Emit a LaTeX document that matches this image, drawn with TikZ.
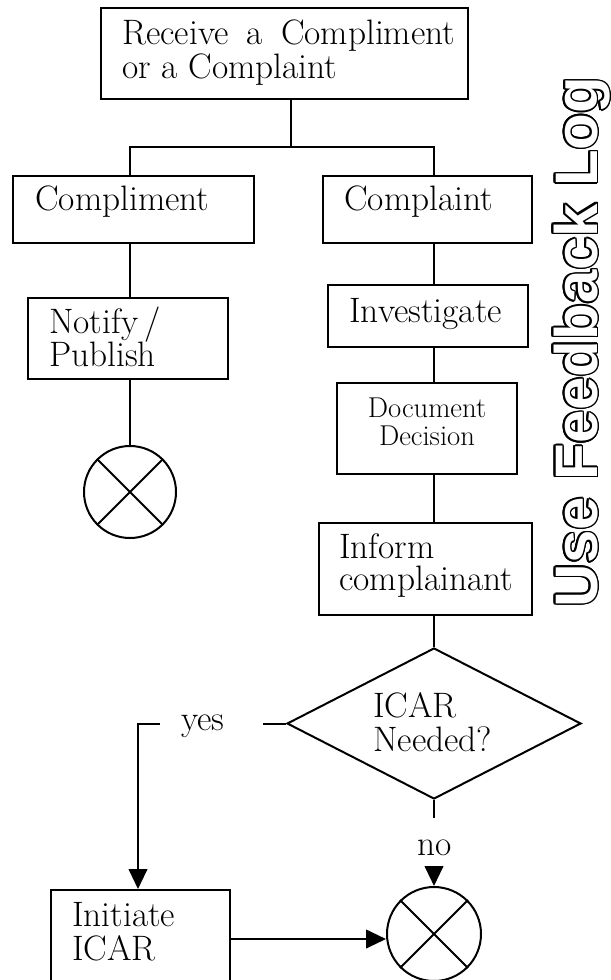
\documentclass[tikz,border=0pt]{standalone}
\usepackage{fontspec}
\newfontfamily\logofont{Liberation Sans}
\usepackage{contour}
\contourlength{1.1pt}
\usetikzlibrary{arrows.meta,shapes.geometric,fit}
\tikzset{
  box/.style={draw, line width=1.5pt, inner sep=0pt, rectangle},
  txt/.style={inner sep=0pt, font=\fontsize{26.5}{30}\selectfont, anchor=base west},
  smalltxt/.style={inner sep=0pt, font=\fontsize{21.5}{25}\selectfont, anchor=base},
  conn/.style={line width=1.5pt},
  arr/.style={conn, -{Triangle[length=15pt,width=14pt]}},
  endc/.style={circle, draw, line width=1.5pt, inner sep=0pt},
  dia/.style={diamond, draw, line width=1.5pt, inner sep=0pt, minimum width=220.5pt, minimum height=113.25pt}
}
\begin{document}
\begin{tikzpicture}[x=0.75pt,y=-0.75pt]
\useasboundingbox (0,0) rectangle (610,980);
\clip (0,0) rectangle (610,980);
% boxes
\node[box, fit={(101,8)(468,99)}] (top) {};
\node[box, fit={(13,176)(254,243)}] (cpl) {};
\node[box, fit={(323,176)(532,243)}] (cpt) {};
\node[box, fit={(28,298)(228,379)}] (notf) {};
\node[box, fit={(328,285)(528,347)}] (inv) {};
\node[box, fit={(337,383)(517,474)}] (doc) {};
\node[box, fit={(319,523)(532,615)}] (inf) {};
\node[box, fit={(51,890)(230,988)}] (ini) {};
\node[dia] (dec) at (434,723.5) {};
\node[endc, minimum size=69pt] (c1) at (130,492) {};
\node[endc, minimum size=70.5pt] (c2) at (434,934) {};
% texts
\node[txt] (topa) at (122,45) {\makebox[249.75pt][s]{Receive a Compliment}};
\node[txt] (topb) at (122,79) {or a Complaint};
\node[txt] (cplt) at (35,211) {Compliment};
\node[txt] (cptt) at (344,211) {Complaint};
\node[txt] (nota) at (49,333) {Notify\,/};
\node[txt] (notb) at (49,366) {Publish};
\node[txt] (invt) at (349,322) {Investigate};
\node[smalltxt] (doca) at (427,417) {Document};
\node[smalltxt] (docb) at (427,445) {Decision};
\node[txt] (infa) at (339,558) {Inform};
\node[txt] (infb) at (339,590) {complainant};
\node[txt] (deca) at (373,717) {ICAR};
\node[txt] (decb) at (373,751) {Needed?};
\node[txt] (yes) at (181,730) {yes};
\node[txt, anchor=base] (no) at (435,855) {no};
\node[txt] (inia) at (72,926) {Initiate};
\node[txt] (inib) at (72,960) {ICAR};
\node[rotate=90, anchor=base, inner sep=0pt, font=\logofont\bfseries\fontsize{45}{46}\selectfont] (logo) at (597,342) {\contour{black}{\textcolor{white}{Use Feedback Log}}};
% connectors
\coordinate (j) at (291,147);
\coordinate (L) at (130,0);
\coordinate (R) at (434,0);
\coordinate (Lx) at (138,0);
\coordinate (ya) at (263,723.5);
\coordinate (yb) at (160,723.5);
\coordinate (na) at (434,818);
\coordinate (nb) at (434,866);
\draw[conn] (top.south -| j) -- (j);
\draw[conn] (cpl.north -| L) |- (j) -| (cpt.north -| R);
\draw[conn] (cpl.south -| L) -- (notf.north -| L);
\draw[conn] (notf.south -| L) -- (c1.north);
\draw[conn] (cpt.south -| R) -- (inv.north -| R);
\draw[conn] (inv.south -| R) -- (doc.north -| R);
\draw[conn] (doc.south -| R) -- (inf.north -| R);
\draw[conn] (inf.south -| R) -- (dec.north);
\draw[conn] (dec.west) -- (ya);
\draw[arr] (yb) -| (ini.north -| Lx);
\draw[conn] (dec.south) -- (na);
\draw[arr] (nb) -- (c2.north);
\draw[arr] (ini.east) -- (ini.east -| c2.west);
\draw[conn] (c1.north west) -- (c1.south east) (c1.north east) -- (c1.south west);
\draw[conn] (c2.north west) -- (c2.south east) (c2.north east) -- (c2.south west);
\end{tikzpicture}
\end{document}
